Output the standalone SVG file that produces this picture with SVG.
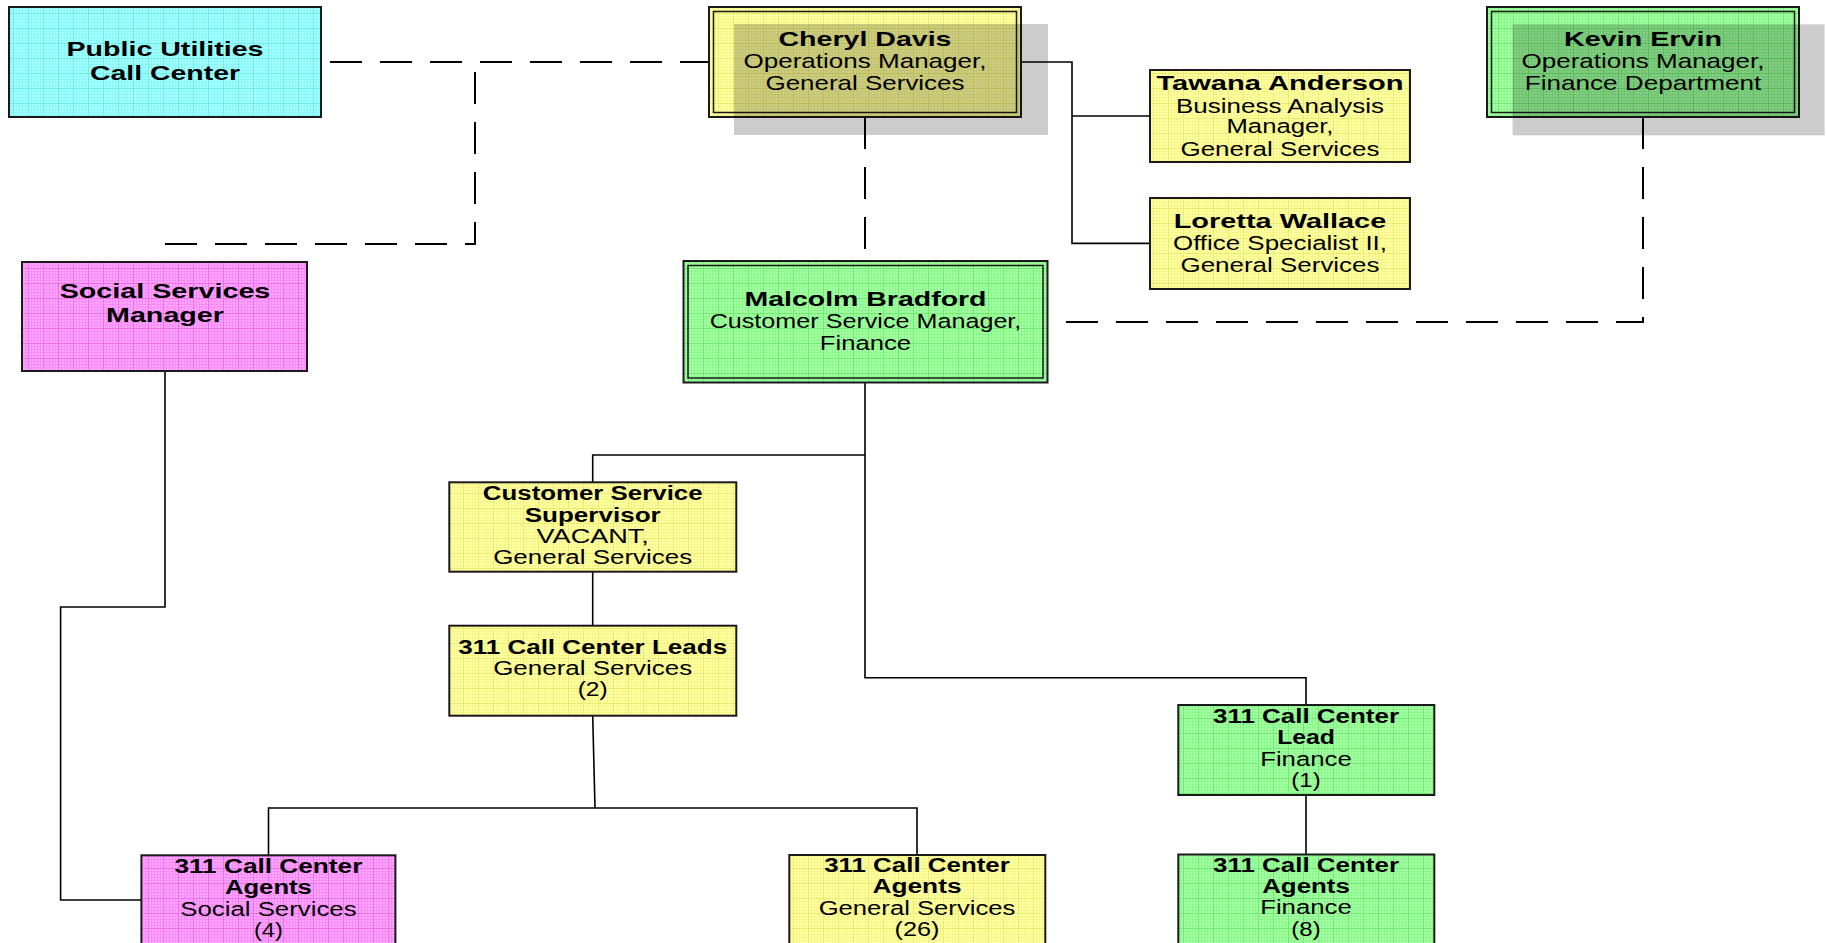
<svg xmlns="http://www.w3.org/2000/svg" width="1826" height="943" viewBox="0 0 1826 943">
<style>
text { font-family: "Liberation Sans", Arial, sans-serif; text-anchor: middle; fill: #000; font-size: 19.5px; }
.b { font-weight: bold; }
.top { font-size: 21px; }
.mid { font-size: 20.5px; }
.box { stroke: #1a1a1a; stroke-width: 2; }
.inner { fill: none; stroke: #1a1a1a; stroke-width: 1.5; }
.shadow { fill: #000; fill-opacity: 0.2; }
.conn { fill: none; stroke: #000; stroke-width: 1.6; }
.dash { fill: none; stroke: #000; stroke-width: 2; stroke-dasharray: 32 18; }
</style>
<defs>
<pattern id="pY" width="15" height="15" patternUnits="userSpaceOnUse">
<rect width="15" height="15" fill="#ffffa4"/>
<path d="M0 1.5H15M0 4.5H15M0 7.5H15M0 10.5H15M1.5 0V15M4.5 0V15M7.5 0V15M10.5 0V15" stroke="#f7f78e" stroke-width="1"/>
<path d="M0 13.5H15M13.5 0V15" stroke="#ecec70" stroke-width="1"/>
</pattern>
<pattern id="pC" width="15" height="15" patternUnits="userSpaceOnUse">
<rect width="15" height="15" fill="#a4ffff"/>
<path d="M0 1.5H15M0 4.5H15M0 7.5H15M0 10.5H15M1.5 0V15M4.5 0V15M7.5 0V15M10.5 0V15" stroke="#8ef7f7" stroke-width="1"/>
<path d="M0 13.5H15M13.5 0V15" stroke="#70ecec" stroke-width="1"/>
</pattern>
<pattern id="pP" width="15" height="15" patternUnits="userSpaceOnUse">
<rect width="15" height="15" fill="#ffa4ff"/>
<path d="M0 1.5H15M0 4.5H15M0 7.5H15M0 10.5H15M1.5 0V15M4.5 0V15M7.5 0V15M10.5 0V15" stroke="#f78ef7" stroke-width="1"/>
<path d="M0 13.5H15M13.5 0V15" stroke="#ec70ec" stroke-width="1"/>
</pattern>
<pattern id="pG" width="15" height="15" patternUnits="userSpaceOnUse">
<rect width="15" height="15" fill="#a4ffa4"/>
<path d="M0 1.5H15M0 4.5H15M0 7.5H15M0 10.5H15M1.5 0V15M4.5 0V15M7.5 0V15M10.5 0V15" stroke="#8ef78e" stroke-width="1"/>
<path d="M0 13.5H15M13.5 0V15" stroke="#70ec70" stroke-width="1"/>
</pattern>
</defs>

<g id="connectors">
<path class="dash" d="M330 62H709"/>
<path class="dash" d="M165 244H475V62"/>
<path class="dash" d="M865 117V261"/>
<path class="dash" d="M1643 117V322H1048"/>
<path class="conn" d="M1021 62H1072V243.4H1150M1072 116H1150"/>
<path class="conn" d="M865 383V677.7H1306V705M865 455H592.7V482.3"/>
<path class="conn" d="M592.7 571.7V625.7"/>
<path class="conn" d="M592.7 715.7L595 808M268.5 855.3V808H917V855"/>
<path class="conn" d="M165 371V607H60.6V900H141.4"/>
<path class="conn" d="M1306 795V854.5"/>
</g>

<g id="n-public-utilities">
<rect class="box" x="9" y="7" width="312" height="110" fill="url(#pC)"/>
<text class="b top" x="165" y="55.7" textLength="197" lengthAdjust="spacingAndGlyphs">Public Utilities</text>
<text class="b top" x="165" y="80" textLength="150" lengthAdjust="spacingAndGlyphs">Call Center</text>
</g>

<g id="n-cheryl-davis">
<rect class="box" x="709" y="7" width="312" height="110" fill="url(#pY)"/>
<rect class="inner" x="713.5" y="11.5" width="303" height="101"/>
<rect class="shadow" x="734" y="24" width="314" height="111"/>
<text class="b top" x="865" y="45.7" textLength="173" lengthAdjust="spacingAndGlyphs">Cheryl Davis</text>
<text class="top" x="865" y="68.3" textLength="243" lengthAdjust="spacingAndGlyphs">Operations Manager,</text>
<text class="top" x="865" y="90" textLength="199" lengthAdjust="spacingAndGlyphs">General Services</text>
</g>

<g id="n-kevin-ervin">
<rect class="box" x="1487" y="7" width="312" height="110" fill="url(#pG)"/>
<rect class="inner" x="1491.5" y="11.5" width="303" height="101"/>
<rect class="shadow" x="1512.6" y="24.3" width="312" height="111"/>
<text class="b top" x="1643" y="45.7" textLength="158" lengthAdjust="spacingAndGlyphs">Kevin Ervin</text>
<text class="top" x="1643" y="68.3" textLength="243" lengthAdjust="spacingAndGlyphs">Operations Manager,</text>
<text class="top" x="1643" y="90" textLength="236.6" lengthAdjust="spacingAndGlyphs">Finance Department</text>
</g>

<g id="n-tawana-anderson">
<rect class="box" x="1150" y="70" width="260" height="92" fill="url(#pY)"/>
<text class="b mid" x="1280" y="90" textLength="247" lengthAdjust="spacingAndGlyphs">Tawana Anderson</text>
<text class="mid" x="1280" y="112.7" textLength="208" lengthAdjust="spacingAndGlyphs">Business Analysis</text>
<text class="mid" x="1280" y="133.3" textLength="107" lengthAdjust="spacingAndGlyphs">Manager,</text>
<text class="mid" x="1280" y="155.7" textLength="199" lengthAdjust="spacingAndGlyphs">General Services</text>
</g>

<g id="n-loretta-wallace">
<rect class="box" x="1150" y="198" width="260" height="91" fill="url(#pY)"/>
<text class="b mid" x="1280" y="228.3" textLength="212.6" lengthAdjust="spacingAndGlyphs">Loretta Wallace</text>
<text class="mid" x="1280" y="250" textLength="214" lengthAdjust="spacingAndGlyphs">Office Specialist II,</text>
<text class="mid" x="1280" y="271.7" textLength="199" lengthAdjust="spacingAndGlyphs">General Services</text>
</g>

<g id="n-social-services-manager">
<rect class="box" x="22" y="262" width="285" height="109" fill="url(#pP)"/>
<text class="b top" x="165" y="298.3" textLength="210.7" lengthAdjust="spacingAndGlyphs">Social Services</text>
<text class="b top" x="165" y="321.7" textLength="118" lengthAdjust="spacingAndGlyphs">Manager</text>
</g>

<g id="n-malcolm-bradford">
<rect class="box" x="683.5" y="261" width="364" height="121.5" fill="url(#pG)"/>
<rect class="inner" x="688" y="265.5" width="355" height="112.5"/>
<text class="b mid" x="865.5" y="306" textLength="242" lengthAdjust="spacingAndGlyphs">Malcolm Bradford</text>
<text class="mid" x="865.5" y="328" textLength="311.7" lengthAdjust="spacingAndGlyphs">Customer Service Manager,</text>
<text class="mid" x="865.5" y="350" textLength="91.3" lengthAdjust="spacingAndGlyphs">Finance</text>
</g>

<g id="n-customer-service-supervisor">
<rect class="box" x="449.3" y="482.3" width="287" height="89.4" fill="url(#pY)"/>
<text class="b" x="592.7" y="500" textLength="219.7" lengthAdjust="spacingAndGlyphs">Customer Service</text>
<text class="b" x="592.7" y="521.7" textLength="136" lengthAdjust="spacingAndGlyphs">Supervisor</text>
<text x="592.7" y="542.7" textLength="112.3" lengthAdjust="spacingAndGlyphs">VACANT,</text>
<text x="592.7" y="564.3" textLength="199" lengthAdjust="spacingAndGlyphs">General Services</text>
</g>

<g id="n-leads-general">
<rect class="box" x="449.3" y="625.7" width="287" height="90" fill="url(#pY)"/>
<text class="b" x="592.7" y="654" textLength="269" lengthAdjust="spacingAndGlyphs">311 Call Center Leads</text>
<text x="592.7" y="675" textLength="199" lengthAdjust="spacingAndGlyphs">General Services</text>
<text x="592.7" y="696" textLength="30" lengthAdjust="spacingAndGlyphs">(2)</text>
</g>

<g id="n-lead-finance">
<rect class="box" x="1178.3" y="705" width="256" height="90" fill="url(#pG)"/>
<text class="b" x="1306" y="723.3" textLength="186" lengthAdjust="spacingAndGlyphs">311 Call Center</text>
<text class="b" x="1306" y="744" textLength="57.7" lengthAdjust="spacingAndGlyphs">Lead</text>
<text x="1306" y="766" textLength="91.7" lengthAdjust="spacingAndGlyphs">Finance</text>
<text x="1306" y="787" textLength="29.3" lengthAdjust="spacingAndGlyphs">(1)</text>
</g>

<g id="n-agents-finance">
<rect class="box" x="1178.3" y="854.5" width="256" height="90" fill="url(#pG)"/>
<text class="b" x="1306" y="871.7" textLength="186" lengthAdjust="spacingAndGlyphs">311 Call Center</text>
<text class="b" x="1306" y="892.7" textLength="87.7" lengthAdjust="spacingAndGlyphs">Agents</text>
<text x="1306" y="914.3" textLength="91.7" lengthAdjust="spacingAndGlyphs">Finance</text>
<text x="1306" y="936" textLength="29.3" lengthAdjust="spacingAndGlyphs">(8)</text>
</g>

<g id="n-agents-social">
<rect class="box" x="141.4" y="855.3" width="254" height="90" fill="url(#pP)"/>
<text class="b" x="268.4" y="872.7" textLength="188" lengthAdjust="spacingAndGlyphs">311 Call Center</text>
<text class="b" x="268.4" y="894.3" textLength="87" lengthAdjust="spacingAndGlyphs">Agents</text>
<text x="268.4" y="916" textLength="176.3" lengthAdjust="spacingAndGlyphs">Social Services</text>
<text x="268.4" y="937" textLength="29" lengthAdjust="spacingAndGlyphs">(4)</text>
</g>

<g id="n-agents-general">
<rect class="box" x="789.3" y="855" width="256" height="90" fill="url(#pY)"/>
<text class="b" x="917" y="872.3" textLength="185.7" lengthAdjust="spacingAndGlyphs">311 Call Center</text>
<text class="b" x="917" y="893.3" textLength="89" lengthAdjust="spacingAndGlyphs">Agents</text>
<text x="917" y="915" textLength="196.7" lengthAdjust="spacingAndGlyphs">General Services</text>
<text x="917" y="936" textLength="45" lengthAdjust="spacingAndGlyphs">(26)</text>
</g>
</svg>
